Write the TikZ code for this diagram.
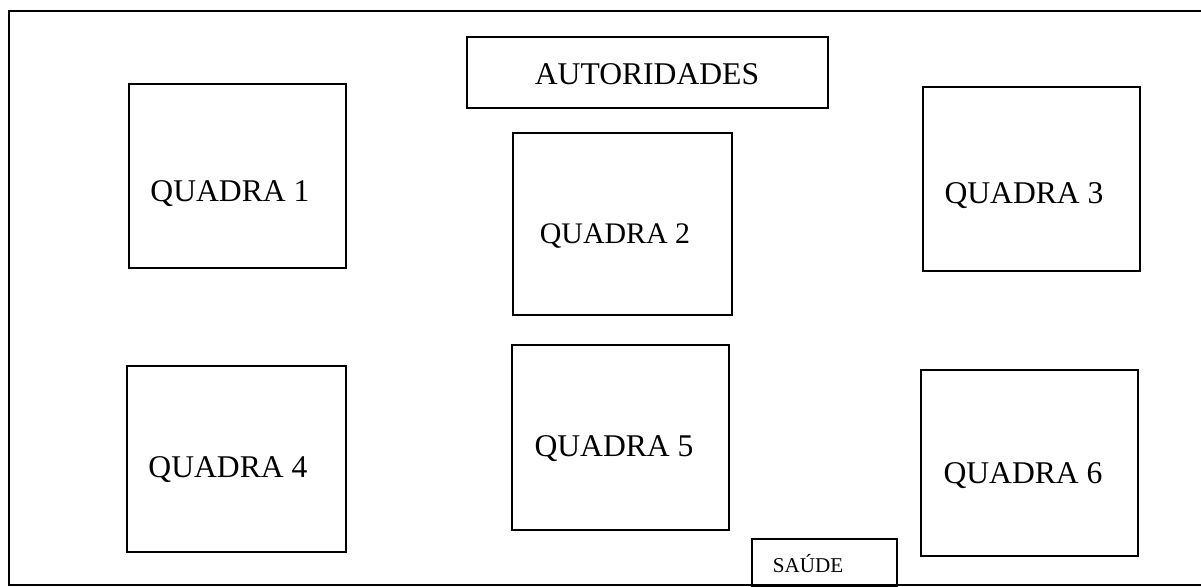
\documentclass[tikz,border=0pt]{standalone}
\usepackage{fontspec}
\setmainfont{Liberation Serif}
\usepackage{tikz}
\usetikzlibrary{positioning}

\begin{document}
\begin{tikzpicture}
        [
            x=0.02cm, y=-0.02cm,
            quadra/.style={draw, line width=0.9pt, inner sep=0pt},
            rotulo/.style={font=\fontsize{18}{20}\selectfont, inner sep=0pt},
            rotulopeq/.style={font=\fontsize{12}{14}\selectfont, inner sep=0pt},
        ]
        \useasboundingbox (0,0) rectangle (1201,587);
        \draw[line width=0.9pt] (1201,11) -- (9,11) -- (9,585) -- (1201,585);

        \node[quadra, minimum width=7.22cm, minimum height=1.42cm] (aut) at (647.5,72.5) {};
        \node[quadra, minimum width=4.34cm, minimum height=3.68cm] (q1) at (237.5,176) {};
        \node[quadra, minimum width=4.38cm, minimum height=3.64cm] (q2) at (622.5,224) {};
        \node[quadra, minimum width=4.34cm, minimum height=3.68cm] (q3) at (1031.5,179) {};
        \node[quadra, minimum width=4.38cm, minimum height=3.72cm] (q4) at (236.5,459) {};
        \node[quadra, minimum width=4.34cm, minimum height=3.70cm] (q5) at (620.5,437.5) {};
        \node[quadra, minimum width=4.34cm, minimum height=3.72cm] (q6) at (1029.5,463) {};
        \node[quadra, minimum width=2.90cm, minimum height=0.94cm] (saude) at (824.5,562.5) {};

        \node[rotulo] (taut) at (647,74) {AUTORIDADES};
        \node[rotulo] (tq1) at (230,194) {QUADRA 1};
        \node[rotulo, font=\fontsize{17}{20}\selectfont] (tq2) at (615,236) {QUADRA 2};
        \node[rotulo] (tq3) at (1024,196) {QUADRA 3};
        \node[rotulo] (tq4) at (228,470) {QUADRA 4};
        \node[rotulo] (tq5) at (614,449) {QUADRA 5};
        \node[rotulo] (tq6) at (1023,476) {QUADRA 6};
        \node[rotulopeq] (tsaude) at (808,564) {SAÚDE};
    \end{tikzpicture}
\end{document}
